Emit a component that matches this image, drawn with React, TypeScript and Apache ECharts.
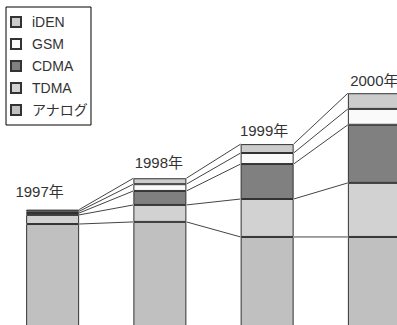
import React, { useEffect, useRef } from "react";
import * as echarts from "echarts";

// Subscribers by technology (millions), stacked bottom to top
const years = ["1997年", "1998年", "1999年", "2000年"];
const analog = [48.1, 49.1, 42.0, 42.0];
const tdma = [4.3, 8.0, 17.9, 25.5];
const cdma = [0.9, 6.6, 16.5, 27.4];
const gsm = [0.8, 3.2, 5.2, 7.5];
const iden = [0.8, 2.8, 4.2, 7.4];

const seriesNames = ["アナログ", "TDMA", "CDMA", "GSM", "iDEN"];
const seriesValues = [analog, tdma, cdma, gsm, iden];
const seriesColors = ["#c0c0c0", "#d2d2d2", "#808080", "#fafafa", "#cccccc"];
const legendOrder = ["iDEN", "GSM", "CDMA", "TDMA", "アナログ"];

// year label nudges [dx, dy]
const labelOffsets = [
  [-13, -6],
  [-1, -3],
  [-3, -1],
  [0, 0],
];

const FONT = "'Liberation Sans', 'Noto Sans CJK JP', sans-serif";
const BAR_WIDTH = 53;

export default function App() {
  const ref = useRef<HTMLDivElement>(null);

  useEffect(() => {
    if (!ref.current) return;
    const chart = echarts.init(ref.current, undefined, { renderer: "svg" });

    // cumulative boundaries for each year: tops of each stacked segment
    const cumulative = years.map((_, i) => {
      let sum = 0;
      return seriesValues.map((vals) => (sum += vals[i]));
    });

    // series lines joining matching segment tops of neighbouring bars
    const linkData: number[][] = [];
    for (let i = 0; i < years.length - 1; i++) {
      for (let k = 0; k < seriesValues.length; k++) {
        linkData.push([i, cumulative[i][k], i + 1, cumulative[i + 1][k]]);
      }
    }

    const barSeries = seriesNames.map((name, idx) => {
      const isTop = idx === seriesNames.length - 1;
      return {
        name,
        type: "bar",
        stack: "total",
        barWidth: BAR_WIDTH,
        itemStyle: {
          color: seriesColors[idx],
          borderColor: "#333",
          borderWidth: 1,
        },
        data: seriesValues[idx].map((v, i) =>
          isTop
            ? {
                value: v,
                label: {
                  show: true,
                  position: "top",
                  offset: labelOffsets[i],
                  formatter: () => years[i],
                  fontFamily: FONT,
                  fontSize: 15,
                  color: "#333",
                },
              }
            : v
        ),
      };
    });

    chart.setOption({
      animation: false,
      backgroundColor: "#fff",
      grid: { left: 0, top: 8, width: 429, height: 318 },
      xAxis: {
        type: "category",
        data: years,
        show: false,
      },
      yAxis: {
        type: "value",
        min: 0,
        max: 150,
        show: false,
      },
      legend: {
        orient: "vertical",
        left: 7,
        top: 7,
        data: legendOrder,
        icon: "rect",
        itemWidth: 10,
        itemHeight: 10,
        itemGap: 8,
        padding: [8, 3, 8, 4],
        borderColor: "#000",
        borderWidth: 1,
        textStyle: {
          fontFamily: FONT,
          fontSize: 14,
          color: "#333",
          lineHeight: 14,
          padding: [0, 0, 0, 6],
        },
      },
      series: [
        ...barSeries,
        {
          type: "custom",
          name: "links",
          coordinateSystem: "cartesian2d",
          silent: true,
          encode: { x: [0, 2], y: [1, 3] },
          data: linkData,
          renderItem: (_params: any, api: any) => {
            const p1 = api.coord([api.value(0), api.value(1)]);
            const p2 = api.coord([api.value(2), api.value(3)]);
            return {
              type: "line",
              shape: {
                x1: p1[0] + BAR_WIDTH / 2,
                y1: p1[1],
                x2: p2[0] - BAR_WIDTH / 2,
                y2: p2[1],
              },
              style: { stroke: "#444", lineWidth: 1 },
            };
          },
        },
      ],
    });

    return () => chart.dispose();
  }, []);

  return (
    <div
      ref={ref}
      style={{ position: "fixed", left: -1, top: 0, width: 440, height: 330 }}
    />
  );
}
